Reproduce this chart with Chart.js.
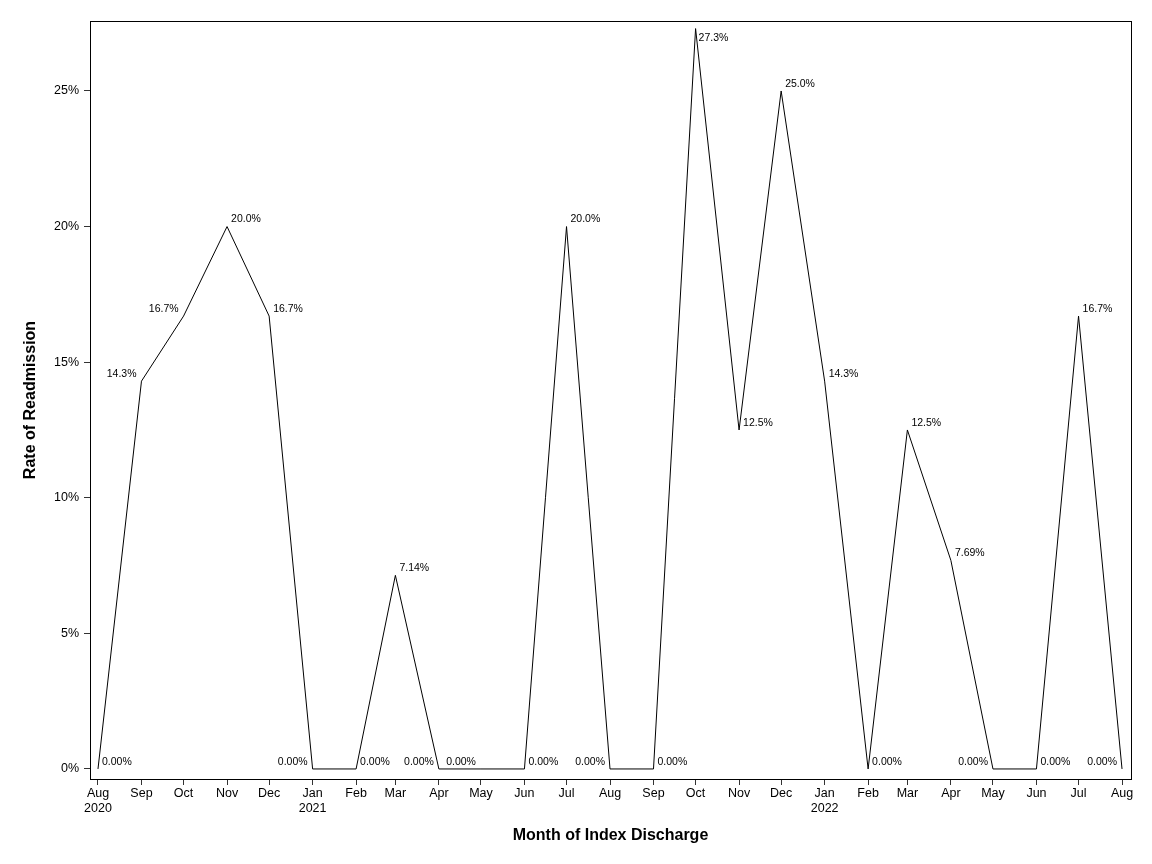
<!DOCTYPE html>
<html>
<head>
<meta charset="utf-8">
<script src="https://cdn.jsdelivr.net/npm/chart.js@4/dist/chart.umd.min.js"></script>
<style>
  body { margin: 0; background: #fff; }
  #wrap { width: 1152px; height: 864px; }
</style>
</head>
<body>
<div id="wrap"><canvas id="mycanvas" width="1152" height="864"></canvas></div>
<script>
// months of index discharge (Aug 2020 - Aug 2022)
var months = ['2020-08', '2020-09', '2020-10', '2020-11', '2020-12',
    '2021-01', '2021-02', '2021-03', '2021-04', '2021-05', '2021-06',
    '2021-07', '2021-08', '2021-09', '2021-10', '2021-11', '2021-12',
    '2022-01', '2022-02', '2022-03', '2022-04', '2022-05', '2022-06',
    '2022-07', '2022-08'];
// rate of readmission, percent
var readmitRate = [0, 14.3, 16.7, 20.0, 16.7,
    0, 0, 7.14, 0, 0, 0,
    20.0, 0, 0, 27.3, 12.5, 25.0,
    14.3, 0, 12.5, 7.69, 0, 0,
    16.7, 0];
var monthNames = ['Jan', 'Feb', 'Mar', 'Apr', 'May', 'Jun', 'Jul', 'Aug', 'Sep', 'Oct', 'Nov', 'Dec'];
var yTicks = [0, 5, 10, 15, 20, 25];
// where each value label sits: L/R of the point, B = right and below
var labelSide = ['R', 'L', 'L', 'R', 'R', 'L', 'R', 'R', 'L', 'L', 'R', 'R', 'L',
    'R', 'B', 'R', 'R', 'R', 'R', 'R', 'R', 'L', 'R', 'R', 'L'];

var t0 = Date.UTC(2020, 7, 1);
function dayOf(m) {
    var p = m.split('-');
    return (Date.UTC(+p[0], +p[1] - 1, 1) - t0) / 86400000;
}
var days = months.map(dayOf);
var points = [];
for (var i in months) {
    points.push({ x: days[i], y: readmitRate[i] });
}

Chart.defaults.font.family = '"Liberation Sans", Arial, sans-serif';
Chart.defaults.color = '#000';

var framePlugin = {
    id: 'frame',
    afterDraw: function (chart) {
        var a = chart.chartArea, ctx = chart.ctx;
        ctx.save();
        ctx.strokeStyle = '#000';
        ctx.lineWidth = 1;
        ctx.strokeRect(Math.round(a.left) + 0.5, Math.round(a.top) + 0.5,
            Math.round(a.right - a.left), Math.round(a.bottom - a.top));
        ctx.restore();
    }
};

var valueLabels = {
    id: 'valueLabels',
    afterDatasetsDraw: function (chart) {
        var ctx = chart.ctx;
        var meta = chart.getDatasetMeta(0);
        ctx.save();
        ctx.font = '10.5px "Liberation Sans", Arial, sans-serif';
        ctx.fillStyle = '#000';
        meta.data.forEach(function (pt, i) {
            var txt = readmitRate[i].toPrecision(3) + '%';
            if (labelSide[i] === 'L') {
                ctx.textAlign = 'right';
                ctx.textBaseline = 'bottom';
                ctx.fillText(txt, pt.x - 5, pt.y - 2);
            } else if (labelSide[i] === 'B') {
                ctx.textAlign = 'left';
                ctx.textBaseline = 'top';
                ctx.fillText(txt, pt.x + 3, pt.y + 4);
            } else {
                ctx.textAlign = 'left';
                ctx.textBaseline = 'bottom';
                ctx.fillText(txt, pt.x + 4, pt.y - 2);
            }
        });
        ctx.restore();
    }
};

var ctx = document.getElementById('mycanvas');
var myChart = new Chart(ctx, {
    type: 'line',
    data: {
        datasets: [{
            label: 'Rate of Readmission',
            data: points,
            borderColor: '#000',
            borderWidth: 1,
            pointRadius: 0,
            tension: 0,
            fill: false
        }]
    },
    options: {
        responsive: false,
        animation: false,
        layout: { padding: { top: 21, right: 21, left: 0, bottom: 0 } },
        plugins: {
            legend: { display: false },
            tooltip: { enabled: false }
        },
        scales: {
            x: {
                type: 'linear',
                min: -5.7,
                max: 736.4,
                afterFit: function (s) { s.height = 85; },
                afterBuildTicks: function (s) {
                    s.ticks = days.map(function (d) { return { value: d }; });
                },
                border: { display: false },
                grid: {
                    drawOnChartArea: false,
                    drawTicks: true,
                    tickLength: 6,
                    color: '#333'
                },
                ticks: {
                    autoSkip: false,
                    maxRotation: 0,
                    padding: 1,
                    font: { size: 12.5 },
                    callback: function (value) {
                        var i = days.indexOf(value);
                        if (i < 0) return '';
                        var p = months[i].split('-');
                        var name = monthNames[+p[1] - 1];
                        if (i === 0 || p[1] === '01') return [name, p[0]];
                        return name;
                    }
                },
                title: {
                    display: true,
                    text: 'Month of Index Discharge',
                    font: { size: 16, weight: 'bold' },
                    padding: { top: 0, bottom: 19 }
                }
            },
            y: {
                min: -0.37,
                max: 27.58,
                afterFit: function (s) { s.width = 90; },
                afterBuildTicks: function (s) {
                    s.ticks = yTicks.map(function (v) { return { value: v }; });
                },
                border: { display: false },
                grid: {
                    drawOnChartArea: false,
                    drawTicks: true,
                    tickLength: 6,
                    color: '#333'
                },
                ticks: {
                    padding: 5,
                    font: { size: 12.5 },
                    callback: function (v) { return v + '%'; }
                },
                title: {
                    display: true,
                    text: 'Rate of Readmission',
                    font: { size: 16, weight: 'bold' },
                    padding: { top: 21, bottom: 0 }
                }
            }
        }
    },
    plugins: [framePlugin, valueLabels]
});
</script>
</body>
</html>
